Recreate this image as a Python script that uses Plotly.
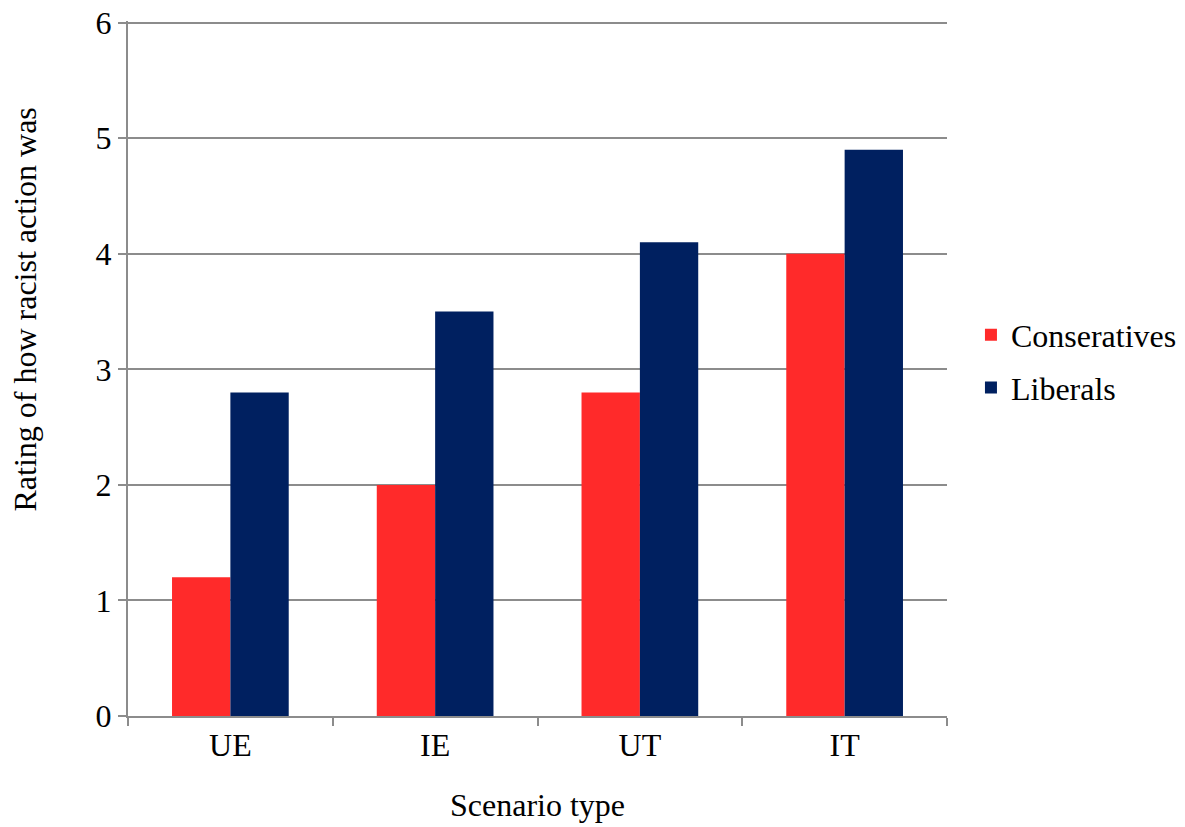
import plotly.graph_objects as go

categories = ["UE", "IE", "UT", "IT"]
conservatives = [1.2, 2.0, 2.8, 4.0]
liberals = [2.8, 3.5, 4.1, 4.9]
y_ticks = [0, 1, 2, 3, 4, 5, 6]

FONT = "Liberation Serif, Times New Roman, serif"
GRID = "#8c8c8c"
FS = 32

fig = go.Figure()
fig.add_trace(go.Bar(x=categories, y=conservatives, name="Conseratives",
                     legendgroup="c",
                     marker=dict(color="#FF2A2A", line=dict(width=0))))
fig.add_trace(go.Bar(x=categories, y=liberals, name="Liberals",
                     legendgroup="l",
                     marker=dict(color="#002060", line=dict(width=0))))

# page body has an 8px margin; margins compensate so the plot sits where the reference has it
fig.update_layout(
    width=1185, height=827,
    margin=dict(l=120, r=245, t=13, b=119),
    paper_bgcolor="white", plot_bgcolor="white",
    font=dict(family=FONT, size=FS, color="black"),
    barmode="group", bargap=0.43, bargroupgap=0,
    legend=dict(x=1.028, y=0.51, xanchor="left", yanchor="middle",
                font=dict(size=FS), tracegroupgap=8, traceorder="grouped"),
    xaxis=dict(showline=True, linecolor=GRID, linewidth=2,
               ticks="outside", ticklen=8, tickcolor=GRID, tickwidth=2,
               tickson="boundaries", showgrid=False, automargin=False,
               tickfont=dict(size=FS)),
    yaxis=dict(range=[0, 6.015], tickvals=y_ticks, showline=True, linecolor=GRID,
               linewidth=2, ticks="outside", ticklen=8, tickcolor=GRID, tickwidth=2,
               showgrid=True, gridcolor=GRID, gridwidth=2, zeroline=False,
               automargin=False, ticklabeloverflow="allow",
               tickfont=dict(size=FS)),
    annotations=[
        dict(text="Rating of how racist action was", textangle=-90,
             xref="paper", yref="paper", x=(25 - 128) / 820, y=0.585,
             xanchor="center", yanchor="middle", showarrow=False,
             font=dict(size=FS)),
        dict(text="Scenario type", xref="paper", yref="paper",
             x=0.5, y=-(805 - 716) / 695, xanchor="center", yanchor="middle",
             showarrow=False, font=dict(size=FS)),
    ],
)

fig.write_html("out.html")
